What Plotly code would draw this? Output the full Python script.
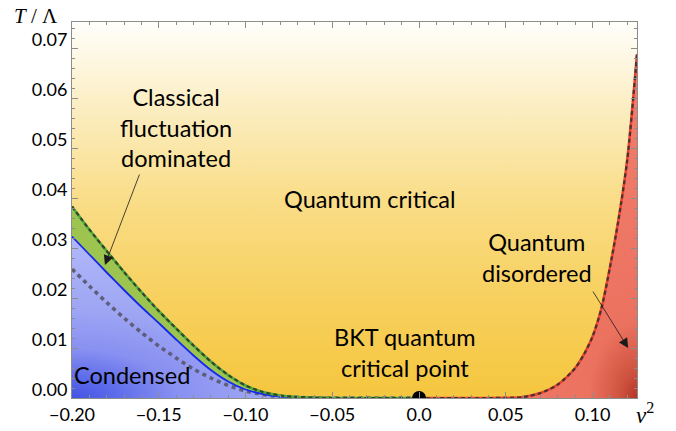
import plotly.graph_objects as go

# ---------------- data ----------------
nu2_left = [-0.20, -0.19, -0.18, -0.17, -0.16, -0.15, -0.14, -0.13, -0.12, -0.11,
            -0.10, -0.09, -0.08, -0.07, -0.06, -0.05, -0.04, -0.03, -0.02, -0.01, 0.0]
# BKT transition temperature (solid blue)
t_bkt = [0.0323, 0.0287, 0.0251, 0.0216, 0.0182, 0.0150, 0.0117, 0.0085, 0.0056, 0.0033,
         0.0017, 0.0008, 0.0003, 0.0001, 0.00003, 0.0, 0.0, 0.0, 0.0, 0.0, 0.0]
# classical-fluctuation crossover (dashed green)
t_cross = [0.0383, 0.0337, 0.0294, 0.0252, 0.0212, 0.0174, 0.0139, 0.0105, 0.0073, 0.0046,
           0.0025, 0.0012, 0.0005, 0.0002, 0.00006, 0.0, 0.0, 0.0, 0.0, 0.0, 0.0]
# dotted gray curve
t_dotted = [0.0258, 0.0224, 0.0191, 0.0160, 0.0131, 0.0104, 0.0080, 0.0058, 0.0040, 0.0025,
            0.0014, 0.0007, 0.0003, 0.0001, 0.00003, 0.0, 0.0, 0.0, 0.0, 0.0, 0.0]
# quantum-disordered crossover (dashed red)
nu2_right = [0.0, 0.02, 0.04, 0.05, 0.06, 0.07, 0.08, 0.09, 0.095, 0.10, 0.105, 0.11, 0.115, 0.12, 0.1256]
t_qd = [0.0, 0.0, 0.0, 0.00003, 0.0002, 0.0010, 0.0027, 0.0060, 0.0087, 0.0123, 0.0178,
        0.0261, 0.0358, 0.0477, 0.0688]

x_ticks = [-0.20, -0.15, -0.10, -0.05, 0.0, 0.05, 0.10]
x_ticktext = ["\u22120.20", "\u22120.15", "\u22120.10", "\u22120.05", "0.0", "0.05", "0.10"]
y_ticks = [0.00, 0.01, 0.02, 0.03, 0.04, 0.05, 0.06, 0.07]
y_ticktext = ["0.00", "0.01", "0.02", "0.03", "0.04", "0.05", "0.06", "0.07"]

X_MIN, X_MAX = -0.20, 0.1256
Y_MIN, Y_MAX = 0.0, 0.0752

FONT = "Lato"
AX = "#8c8c8c"

fig = go.Figure()

# yellow background (quantum critical)
fig.add_trace(go.Scatter(
    x=[X_MIN, X_MAX, X_MAX, X_MIN], y=[Y_MIN, Y_MIN, Y_MAX, Y_MAX],
    mode="none", fill="toself",
    fillgradient=dict(type="vertical", colorscale=[
        [0.0, "#f5c63e"], [0.26, "#f7d05d"], [0.53, "#f9dd88"], [0.79, "#fcefc6"], [1.0, "#fffffb"]]),
    hoverinfo="skip", showlegend=False))

# condensed region (radial gradient centred on bottom-left corner)
span_x = 0.0 - X_MIN
bx = [X_MIN - span_x, X_MIN] + nu2_left + [0.0, X_MIN - span_x]
by = [t_bkt[0], t_bkt[0]] + t_bkt + [-t_bkt[0], -t_bkt[0]]
fig.add_trace(go.Scatter(
    x=bx, y=by, mode="none", fill="toself",
    fillgradient=dict(type="radial", colorscale=[
        [0.0, "#4454e4"], [0.12, "#5b6aea"], [0.3, "#8890f1"], [0.55, "#9ea6f4"], [1.0, "#b2b8f9"]]),
    hoverinfo="skip", showlegend=False))

# classical fluctuation band (green)
fig.add_trace(go.Scatter(
    x=nu2_left + nu2_left[::-1], y=t_cross + t_bkt[::-1],
    mode="none", fill="toself", fillcolor="#9cc44f",
    hoverinfo="skip", showlegend=False))

# quantum disordered region (radial gradient centred on bottom-right corner)
ext = X_MAX + (X_MAX - 0.0)
rx = nu2_right + [ext, ext, 0.0]
ry = t_qd + [t_qd[-1], -t_qd[-1], -t_qd[-1]]
fig.add_trace(go.Scatter(
    x=rx, y=ry, mode="none", fill="toself",
    fillgradient=dict(type="radial", colorscale=[
        [0.0, "#b53525"], [0.08, "#cf5440"], [0.22, "#ec7260"], [1.0, "#f27e6c"]]),
    hoverinfo="skip", showlegend=False))

# dotted gray curve
fig.add_trace(go.Scatter(
    x=nu2_left, y=t_dotted, mode="lines", line=dict(color="#5e5e7a", width=3.6, dash="4px,4px", shape="spline", smoothing=0.8),
    hoverinfo="skip", showlegend=False))

# BKT line (blue)
fig.add_trace(go.Scatter(
    x=nu2_left, y=t_bkt, mode="lines", line=dict(color="#1428f0", width=1.8, shape="spline", smoothing=0.8),
    hoverinfo="skip", showlegend=False))

# classical crossover line: green with dark dashes
fig.add_trace(go.Scatter(
    x=nu2_left, y=t_cross, mode="lines", line=dict(color="#4caa3c", width=2.6, shape="spline", smoothing=0.8),
    hoverinfo="skip", showlegend=False))
fig.add_trace(go.Scatter(
    x=nu2_left, y=t_cross, mode="lines", line=dict(color="#34452e", width=2.2, dash="4px,3px", shape="spline", smoothing=0.8),
    hoverinfo="skip", showlegend=False))

# quantum disordered crossover line: red with dark dashes
fig.add_trace(go.Scatter(
    x=nu2_right, y=t_qd, mode="lines", line=dict(color="#ea4430", width=2.6, shape="spline", smoothing=0.8),
    hoverinfo="skip", showlegend=False))
fig.add_trace(go.Scatter(
    x=nu2_right, y=t_qd, mode="lines", line=dict(color="#4a3232", width=2.2, dash="4px,3px", shape="spline", smoothing=0.8),
    hoverinfo="skip", showlegend=False))

# BKT quantum critical point
fig.add_trace(go.Scatter(
    x=[0.0], y=[0.0], mode="markers", marker=dict(color="black", size=14),
    cliponaxis=True, hoverinfo="skip", showlegend=False))

txt = dict(family=FONT, size=23.5, color="black")
annotations = [
    dict(x=-0.1403, y=0.0542, text="Classical<br>fluctuation<br>dominated", showarrow=False, font=txt,
         xanchor="center", yanchor="middle"),
    dict(x=-0.0282, y=0.0398, text="Quantum critical", showarrow=False, font=txt,
         xanchor="center", yanchor="middle"),
    dict(x=0.068, y=0.0282, text="Quantum<br>disordered", showarrow=False, font=txt,
         xanchor="center", yanchor="middle"),
    dict(x=-0.0081, y=0.0092, text="BKT quantum<br>critical point", showarrow=False, font=txt,
         xanchor="center", yanchor="middle"),
    dict(x=-0.1654, y=0.0046, text="Condensed", showarrow=False, font=txt,
         xanchor="center", yanchor="middle"),
    # arrows
    dict(x=-0.181, y=0.0266, ax=-0.1608, ay=0.045, xref="x", yref="y", axref="x", ayref="y",
         text="", showarrow=True, arrowhead=2, arrowsize=2.4, arrowwidth=0.8, arrowcolor="#1a1a1a"),
    dict(x=0.1205, y=0.0100, ax=0.0997, ay=0.0216, xref="x", yref="y", axref="x", ayref="y",
         text="", showarrow=True, arrowhead=2, arrowsize=2.4, arrowwidth=0.8, arrowcolor="#1a1a1a"),
    # axis titles
    dict(x=-0.064, y=1.016, xref="paper", yref="paper", text="<i>T</i> / \u039b", showarrow=False,
         xanchor="center", yanchor="middle",
         font=dict(family="Liberation Serif", size=21, color="black")),
    dict(x=1.014, y=-0.042, xref="paper", yref="paper", text="<i>\u03bd</i><sup>2</sup>", showarrow=False,
         xanchor="center", yanchor="middle",
         font=dict(family="Liberation Serif", size=23, color="black")),
]

fig.update_layout(
    width=676, height=431,
    margin=dict(l=72, r=39, t=22, b=33, autoexpand=False),
    paper_bgcolor="white", plot_bgcolor="white",
    annotations=annotations,
    showlegend=False,
)
fig.update_xaxes(
    range=[X_MIN, X_MAX], tickmode="array", tickvals=x_ticks, ticktext=x_ticktext,
    ticks="inside", ticklen=6, tickwidth=1, tickcolor=AX, automargin=False,
    showline=True, linecolor=AX, linewidth=1, mirror="allticks",
    showgrid=False, zeroline=False,
    tickfont=dict(family=FONT, size=18, color="black"),
    minor=dict(tickmode="linear", tick0=0, dtick=0.01, ticks="inside", ticklen=3, tickcolor=AX, showgrid=False),
)
fig.update_yaxes(
    range=[Y_MIN, Y_MAX], tickmode="array", tickvals=y_ticks, ticktext=y_ticktext,
    ticks="inside", ticklen=6, tickwidth=1, tickcolor=AX, automargin=False,
    showline=True, linecolor=AX, linewidth=1, mirror="allticks",
    showgrid=False, zeroline=False, ticklabelshift=-8,
    tickfont=dict(family=FONT, size=18, color="black"),
    minor=dict(tickmode="linear", tick0=0, dtick=0.002, ticks="inside", ticklen=3, tickcolor=AX, showgrid=False),
)

fig.write_html("out.html")
